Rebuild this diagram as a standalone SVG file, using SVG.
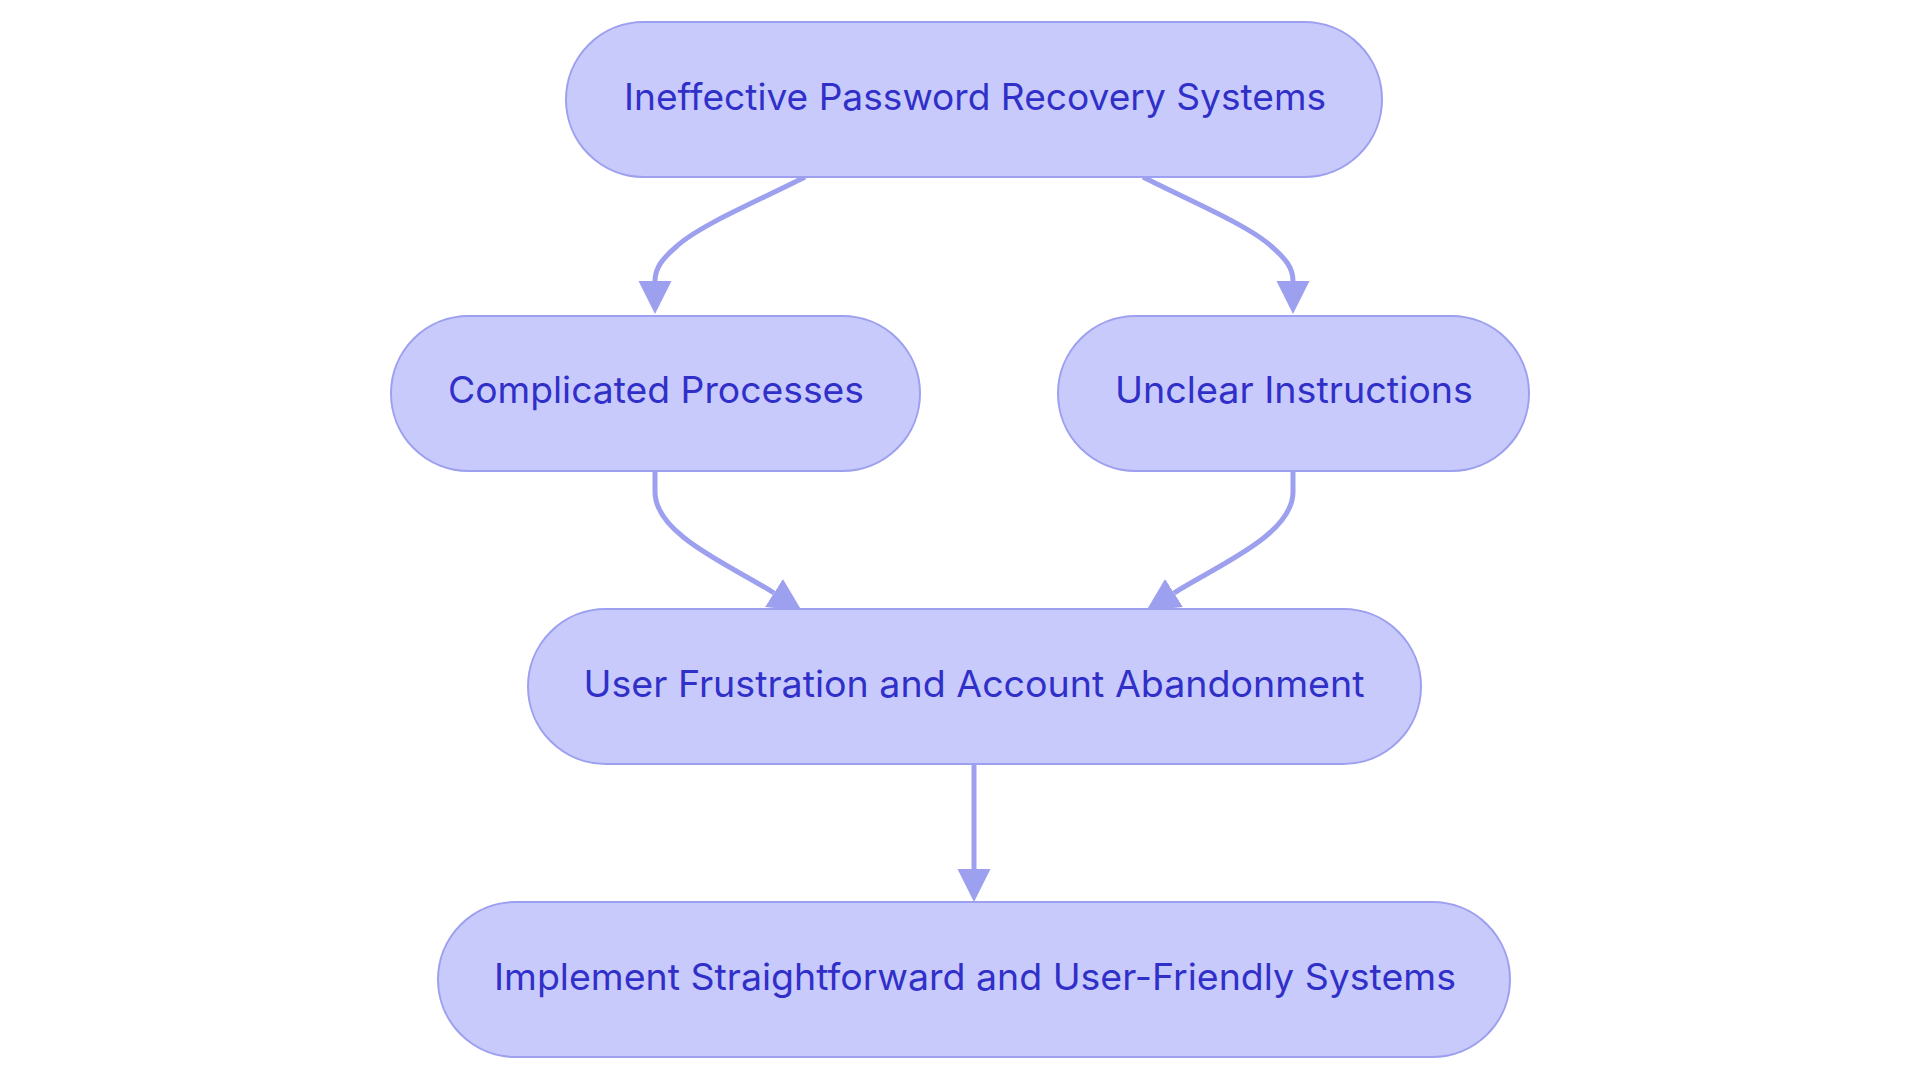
<svg xmlns="http://www.w3.org/2000/svg" width="1920" height="1083" viewBox="0 0 1920 1083">
<style>
.node rect{fill:#C9CAFC;stroke:#9DA0EE;stroke-width:2}
.node text{font-family:Inter,"Noto Sans","Liberation Sans",sans-serif;font-size:37px;fill:#3030C9;text-anchor:middle}
.edge{fill:none;stroke:#9DA0EE;stroke-width:5}
</style>
<defs>
<marker id="arrow" markerUnits="userSpaceOnUse" markerWidth="34" markerHeight="34" refX="0" refY="16.5" orient="auto" viewBox="0 0 34 34">
<path d="M0,0 L33,16.5 L0,33 z" fill="#9DA0EE"/>
</marker>
</defs>
<rect width="1920" height="1083" fill="#FFFFFF"/>
<g id="connectors">
<path class="edge" d="M805,177 C760,200 700,225 677,246 C662,259 655,268 655,281" marker-end="url(#arrow)"/>
<path class="edge" d="M1143,177 C1188,200 1248,225 1271,246 C1286,259 1293,268 1293,281" marker-end="url(#arrow)"/>
<path class="edge" d="M655,472 L655,492 C655,535 732,566 774,593" marker-end="url(#arrow)"/>
<path class="edge" d="M1293,472 L1293,492 C1293,535 1216,566 1174,593" marker-end="url(#arrow)"/>
<path class="edge" d="M974,764 L974,869" marker-end="url(#arrow)"/>
</g>
<g id="n1" class="node"><rect x="566" y="22" width="816" height="155" rx="77.5"/><text x="975" y="110" textLength="702" lengthAdjust="spacingAndGlyphs">Ineffective Password Recovery Systems</text></g>
<g id="n2" class="node"><rect x="391" y="316" width="529" height="155" rx="77.5"/><text x="656" y="403" textLength="416" lengthAdjust="spacingAndGlyphs">Complicated Processes</text></g>
<g id="n3" class="node"><rect x="1058" y="316" width="471" height="155" rx="77.5"/><text x="1294" y="403" textLength="358" lengthAdjust="spacingAndGlyphs">Unclear Instructions</text></g>
<g id="n4" class="node"><rect x="528" y="609" width="893" height="155" rx="77.5"/><text x="974" y="697" textLength="781" lengthAdjust="spacingAndGlyphs">User Frustration and Account Abandonment</text></g>
<g id="n5" class="node"><rect x="438" y="902" width="1072" height="155" rx="77.5"/><text x="975" y="990" textLength="962" lengthAdjust="spacingAndGlyphs">Implement Straightforward and User-Friendly Systems</text></g>
</svg>
